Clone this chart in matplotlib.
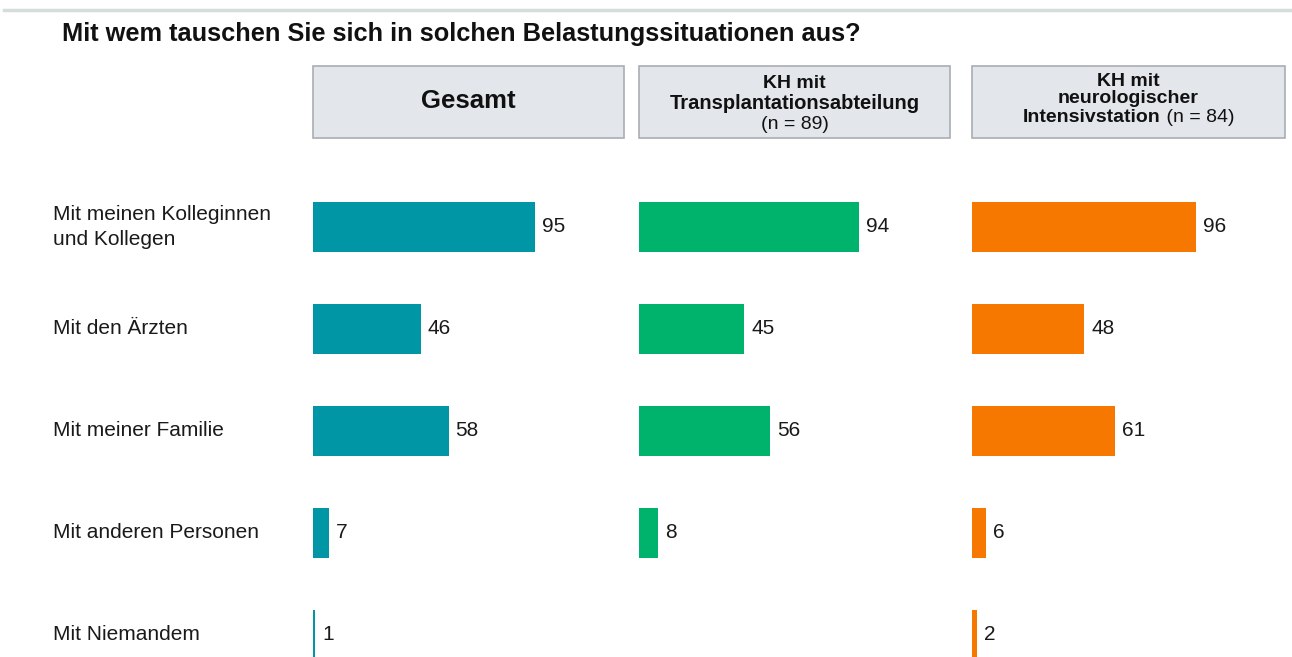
import matplotlib
matplotlib.use("Agg")
import matplotlib.pyplot as plt
from matplotlib.patches import Rectangle
from matplotlib.lines import Line2D
from matplotlib import transforms

plt.rcParams['font.family'] = ['Liberation Sans', 'DejaVu Sans']

title = "Mit wem tauschen Sie sich in solchen Belastungssituationen aus?"
categories = ["Mit meinen Kolleginnen\nund Kollegen", "Mit den Ärzten",
              "Mit meiner Familie", "Mit anderen Personen", "Mit Niemandem"]
gesamt = [95, 46, 58, 7, 1]
transplant = [94, 45, 56, 8, None]
neuro = [96, 48, 61, 6, 2]

W, H = 1292, 657
fig = plt.figure(figsize=(W / 100, H / 100), dpi=100)


def fx(px):
    return px / W


def fy(py):
    return 1 - py / H


# thin rule across the top
fig.add_artist(Line2D([fx(4), 1], [fy(10), fy(10)], color='#D5DDDB', lw=2.5))

fig.text(fx(62), fy(34), title, fontsize=18.3, fontweight='bold',
         va='center', ha='left', color='#111111')

label_fs = 15
box_fs = 14
panels = [
    (313, gesamt, '#0096A6'),
    (639, transplant, '#00B36C'),
    (972, neuro, '#F77800'),
]
axes = []
for left, values, color in panels:
    ax = fig.add_axes([fx(left), 0, 311 / W, (H - 176) / H])
    ax.set_xlim(0, 133)
    ax.set_ylim(4.2157, -0.5)
    ax.axis('off')
    for i, v in enumerate(values):
        if v is None:
            continue
        ax.barh(i, v, height=0.49, color=color, edgecolor='none')
        ax.annotate(str(v), (v, i), xytext=(5, 0), textcoords='offset points',
                    va='center', ha='left', fontsize=label_fs, color='#1a1a1a')
    axes.append(ax)

trans = transforms.blended_transform_factory(fig.transFigure, axes[0].transData)
for i, cat in enumerate(categories):
    fig.text(fx(53), i, cat, transform=trans, fontsize=label_fs,
             va='center', ha='left', color='#1a1a1a', linespacing=1.4)

# column header boxes
boxes = [(313, 624), (639, 950), (972, 1285)]
for x0, x1 in boxes:
    fig.add_artist(Rectangle((fx(x0), fy(138)), (x1 - x0) / W, 72 / H,
                             transform=fig.transFigure, facecolor='#E3E6EA',
                             edgecolor='#A9AEB5', lw=1.2))

fig.text(fx(468.5), fy(101), "Gesamt", fontsize=18.5, fontweight='bold',
         ha='center', va='center', color='#111111')

cx2 = 794.5
fig.text(fx(cx2), fy(88), "KH mit", fontsize=box_fs, fontweight='bold',
         ha='center', va='baseline', color='#111111')
fig.text(fx(cx2), fy(109), "Transplantationsabteilung", fontsize=box_fs + 0.5,
         fontweight='bold', ha='center', va='baseline', color='#111111')
fig.text(fx(cx2), fy(129), "(n = 89)", fontsize=box_fs,
         ha='center', va='baseline', color='#111111')

cx3 = 1128.5
fig.text(fx(cx3), fy(85.5), "KH mit", fontsize=box_fs, fontweight='bold',
         ha='center', va='baseline', color='#111111')
fig.text(fx(cx3), fy(103), "neurologischer", fontsize=box_fs,
         fontweight='bold', ha='center', va='baseline', color='#111111')
r = fig.canvas.get_renderer()
t1 = fig.text(0, fy(122), "Intensivstation", fontsize=box_fs, fontweight='bold',
              ha='left', va='baseline', color='#111111')
t2 = fig.text(0, fy(122), " (n = 84)", fontsize=box_fs,
              ha='left', va='baseline', color='#111111')
w1 = t1.get_window_extent(r).width
w2 = t2.get_window_extent(r).width
start = cx3 - (w1 + w2) / 2
t1.set_x(fx(start))
t2.set_x(fx(start + w1))

fig.savefig("out.png", dpi=100)
